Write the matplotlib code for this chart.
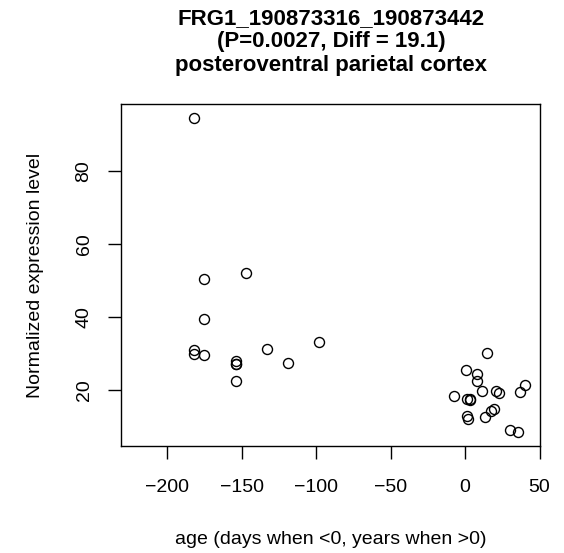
import matplotlib
matplotlib.use("Agg")
import matplotlib.pyplot as plt

plt.rcParams['font.family'] = ['Liberation Sans', 'DejaVu Sans']

age = [-182, -175, -147, -175, -182, -182, -175, -154, -154, -154, -154, -133, -119, -98,
       15, 0.9, 8, 8, -7.2, 1, 3, 3.4, 11.4, 20.6, 22.8, 40.3, 36.9, 1.1, 2.2,
       19.5, 17.7, 13.2, 30.4, 35.8]
expr = [94.6, 50.4, 52.2, 39.5, 31.1, 29.9, 29.7, 27.9, 27.3, 27.1, 22.5, 31.2, 27.4, 33.1,
        30.2, 25.6, 24.4, 22.6, 18.4, 17.5, 17.3, 17.5, 19.7, 19.8, 19.1, 21.4, 19.4, 12.9, 12.0,
        14.8, 14.2, 12.7, 9.1, 8.6]

title = "FRG1_190873316_190873442\n(P=0.0027, Diff = 19.1)\nposteroventral parietal cortex"
xlabel = "age (days when <0, years when >0)"
ylabel = "Normalized expression level"
xticks = [-200, -150, -100, -50, 0, 50]
yticks = [20, 40, 60, 80]

fig = plt.figure(figsize=(5.64, 5.53), dpi=100)
ax = fig.add_axes([121/564, 1-446/553, (540-121)/564, (446-104)/553])
ax.plot(age, expr, linestyle='none', marker='o', markersize=7.2,
        markerfacecolor='none', markeredgecolor='black', markeredgewidth=1.0)
ax.set_xlim(-231, 50.3)
ax.set_ylim(4.7, 98.4)
ax.set_xticks(xticks)
ax.set_xticklabels([f"\u2212{abs(t)}" if t < 0 else str(t) for t in xticks])
ax.set_yticks(yticks)
ax.set_yticklabels([str(t) for t in yticks], rotation=90, va='center')
ax.tick_params(axis='both', length=9.5, width=1, labelsize=14, color='black')
ax.tick_params(axis='x', pad=14.5)
ax.tick_params(axis='y', pad=11)
for s in ax.spines.values():
    s.set_linewidth(1.0)
ax.set_xlabel(xlabel, fontsize=14, labelpad=25)
ax.set_ylabel(ylabel, fontsize=14, labelpad=23)
fig.text(331/564, 1-42/553, title, ha='center', va='center', fontsize=16,
         fontweight='bold', linespacing=1.15)
fig.savefig("out.png", dpi=100)
